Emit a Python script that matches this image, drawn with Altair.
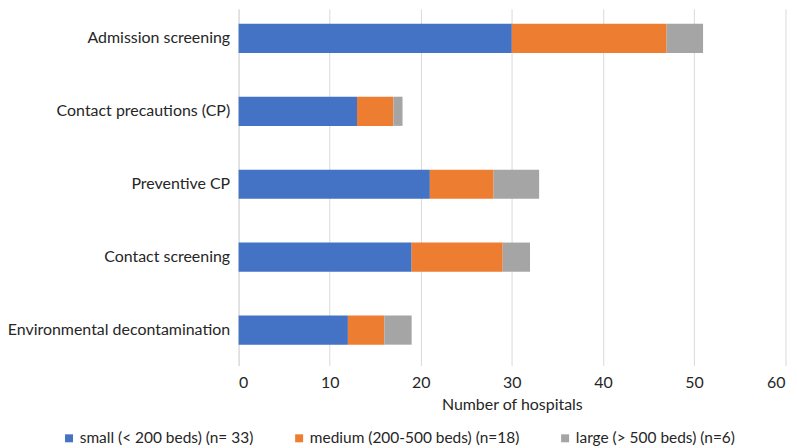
import altair as alt
import pandas as pd

categories = ["Admission screening", "Contact precautions (CP)", "Preventive CP",
              "Contact screening", "Environmental decontamination"]
groups = ["small (< 200 beds) (n= 33)", "medium (200-500 beds) (n=18)", "large (> 500 beds) (n=6)"]
small = [30, 13, 21, 19, 12]
medium = [17, 4, 7, 10, 4]
large = [4, 1, 5, 3, 3]
colors = ["#4472C4", "#ED7D31", "#A5A5A5"]
x_ticks = [0, 10, 20, 30, 40, 50, 60]

rows = []
for gi, (g, vals) in enumerate(zip(groups, [small, medium, large])):
    for c, v in zip(categories, vals):
        rows.append({"measure": c, "group": g, "order": gi, "value": v})
df = pd.DataFrame(rows)

FONT = "Lato"

chart = alt.Chart(df).mark_bar().encode(
    y=alt.Y("measure:N", sort=categories, title=None,
            scale=alt.Scale(paddingInner=0.6, paddingOuter=0.245, align=0.418),
            axis=alt.Axis(labelFontSize=16, labelColor="#262626", labelFont=FONT,
                          ticks=False, domain=True, domainColor="#D9D9D9",
                          labelPadding=9, labelLimit=300)),
    x=alt.X("value:Q", stack="zero", title="Number of hospitals",
            scale=alt.Scale(domain=[0, 60], nice=False),
            axis=alt.Axis(values=x_ticks, labelFontSize=16, labelColor="#262626",
                          labelFont=FONT, titleFont=FONT, titleFontSize=16,
                          titleFontWeight="normal", titleColor="#262626",
                          ticks=False, domain=False, grid=True, gridColor="#D9D9D9",
                          labelPadding=9, titlePadding=6, format="d")),
    color=alt.Color("group:N", sort=groups,
                    scale=alt.Scale(domain=groups, range=colors),
                    legend=alt.Legend(orient="none", legendX=-178, legendY=423,
                                      direction="horizontal", title=None,
                                      symbolType="square", symbolSize=64,
                                      symbolStrokeWidth=0, labelFontSize=15.5,
                                      labelFont=FONT, labelColor="#262626",
                                      columnPadding=38, labelOffset=3,
                                      labelLimit=400)),
    order=alt.Order("order:Q"),
).properties(
    width=548.5, height=358,
    padding={"left": 231.5, "top": 0, "right": 4, "bottom": 80},
    autosize=alt.AutoSizeParams(type="none"),
).configure_view(stroke=None)

chart.save("out.html", embed_options={"renderer": "svg", "actions": False})
